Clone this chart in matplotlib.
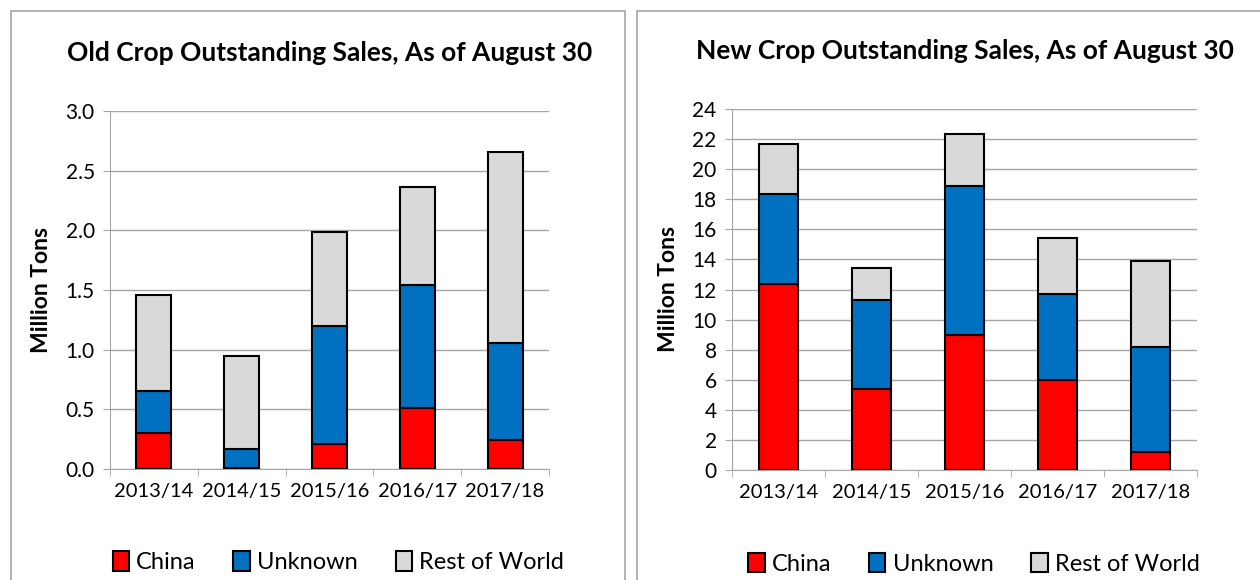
import numpy as np
import matplotlib.pyplot as plt
from matplotlib.patches import Rectangle

plt.rcParams['font.family'] = ['Lato', 'DejaVu Sans']

years = ["2013/14", "2014/15", "2015/16", "2016/17", "2017/18"]
series_names = ["China", "Unknown", "Rest of World"]
colors = ["#ff0000", "#0070c0", "#d9d9d9"]

# Old crop (million tons)
old_china = [0.30, 0.005, 0.21, 0.51, 0.245]
old_unknown = [0.35, 0.165, 0.99, 1.03, 0.815]
old_row = [0.81, 0.78, 0.79, 0.82, 1.60]

# New crop (million tons)
new_china = [12.34, 5.36, 9.00, 5.98, 1.22]
new_unknown = [6.03, 5.96, 9.88, 5.70, 6.94]
new_row = [3.33, 2.13, 3.44, 3.72, 5.71]

grey = "#a6a6a6"

fig = plt.figure(figsize=(12.6, 5.8), dpi=100)

# panel borders
fig.patches.append(Rectangle((11 / 1260, -0.01), 614 / 1260, 1 - 11 / 580 + 0.01,
                             transform=fig.transFigure, fill=False,
                             edgecolor=grey, linewidth=1.2))
fig.patches.append(Rectangle((637 / 1260, -0.01), 0.6, 1 - 11 / 580 + 0.01,
                             transform=fig.transFigure, fill=False,
                             edgecolor=grey, linewidth=1.2))


def draw(ax, data, ymax, ystep, fmt, title, width):
    x = np.arange(len(years))
    bottom = np.zeros(len(years))
    handles = []
    for vals, c, name in zip(data, colors, series_names):
        h = ax.bar(x, vals, width, bottom=bottom, color=c, edgecolor="black",
                   linewidth=1.5, label=name, zorder=3)
        bottom += np.array(vals)
        handles.append(h)
    ax.set_xlim(-0.5, len(years) - 0.5)
    ax.set_ylim(0, ymax)
    yt = np.arange(0, ymax + ystep / 2, ystep)
    ax.set_yticks(yt)
    ax.set_yticklabels([fmt.format(v) for v in yt], fontsize=15)
    ax.set_xticks(x)
    ax.set_xticklabels(years, fontsize=14.5)
    ax.set_xticks(np.arange(-0.5, len(years)), minor=True)
    ax.tick_params(axis="x", which="major", length=0, pad=10)
    ax.tick_params(axis="x", which="minor", length=5, color=grey)
    ax.tick_params(axis="y", length=5, color=grey, pad=6)
    ax.grid(axis="y", color=grey, linewidth=1, zorder=0)
    for s in ["top", "right"]:
        ax.spines[s].set_visible(False)
    for s in ["left", "bottom"]:
        ax.spines[s].set_color(grey)
    ax.set_ylabel("Million Tons", fontsize=16.5, fontweight="bold", labelpad=10)
    ax.set_title(title, fontsize=19, fontweight="bold", pad=36)
    ax.legend(handles=handles, loc="upper center", bbox_to_anchor=(0.52, -0.17),
              ncol=3, frameon=False, fontsize=17, handlelength=0.7,
              handleheight=0.9, handletextpad=0.3, columnspacing=1.6)


ax1 = fig.add_axes([110 / 1260, 1 - 469 / 580, 439 / 1260, 358 / 580])
draw(ax1, [old_china, old_unknown, old_row], 3.0, 0.5, "{:.1f}",
     "Old Crop Outstanding Sales, As of August 30", 0.4)

ax2 = fig.add_axes([732 / 1260, 1 - 470 / 580, 465 / 1260, 361 / 580])
draw(ax2, [new_china, new_unknown, new_row], 24, 2, "{:.0f}",
     "New Crop Outstanding Sales, As of August 30", 0.41)

fig.savefig("out.png", dpi=100)
